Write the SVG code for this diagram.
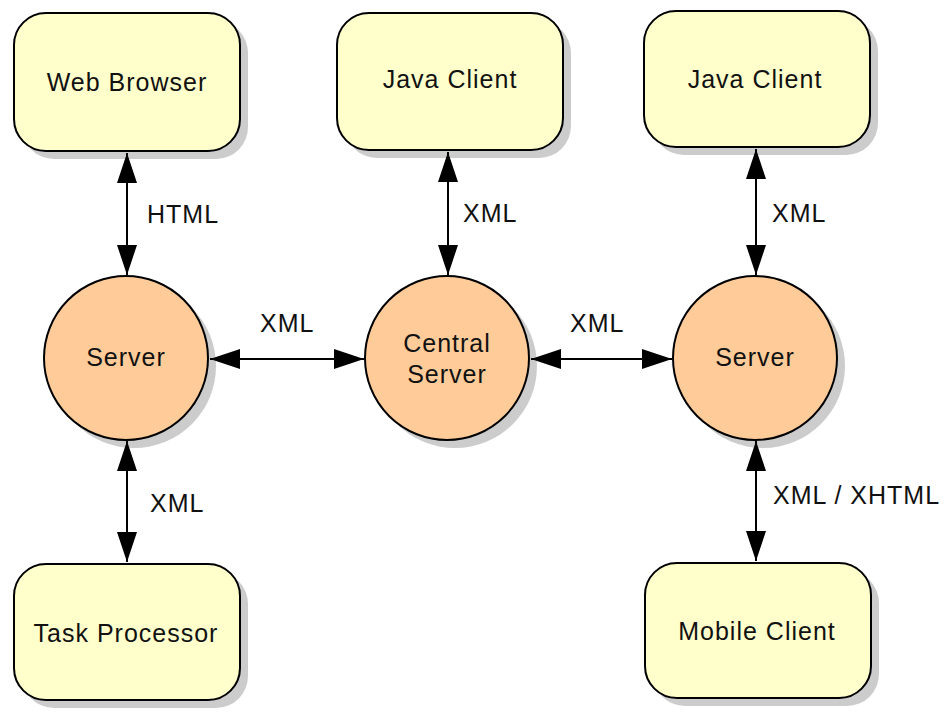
<svg xmlns="http://www.w3.org/2000/svg" width="945" height="713" viewBox="0 0 945 713">
<defs>
<marker id="ah" markerUnits="userSpaceOnUse" markerWidth="30" markerHeight="20" refX="30" refY="10" orient="auto-start-reverse" viewBox="0 0 30 20">
<path d="M0,0 L30,10 L0,20 Z" fill="#000"/>
</marker>
</defs>
<style>
.box{fill:#FFFFCC;stroke:#000;stroke-width:2}
.cir{fill:#FFCC99;stroke:#000;stroke-width:2}
.sh{fill:#CCCCCC}
.t{font-family:"Liberation Sans",Arial,sans-serif;font-size:25px;fill:#111;text-anchor:middle;letter-spacing:1px}
.l{font-family:"Liberation Sans",Arial,sans-serif;font-size:25px;fill:#111;letter-spacing:1px}
.c{stroke:#000;stroke-width:2;fill:none;marker-start:url(#ah);marker-end:url(#ah)}
</style>
<rect width="945" height="713" fill="#fff"/>
<g id="webBrowser">
<rect class="sh" x="22" y="21" width="226" height="138" rx="32"/>
<rect class="box" x="14" y="13" width="226" height="138" rx="32"/>
<text class="t" x="127" y="91">Web Browser</text>
</g>
<g id="javaClient1">
<rect class="sh" x="345" y="21" width="226" height="137" rx="32"/>
<rect class="box" x="337" y="13" width="226" height="137" rx="32"/>
<text class="t" x="450" y="88">Java Client</text>
</g>
<g id="javaClient2">
<rect class="sh" x="652" y="19" width="226" height="136" rx="32"/>
<rect class="box" x="644" y="11" width="226" height="136" rx="32"/>
<text class="t" x="755" y="88">Java Client</text>
</g>
<g id="taskProcessor">
<rect class="sh" x="22" y="572" width="226" height="136" rx="32"/>
<rect class="box" x="14" y="564" width="226" height="136" rx="32"/>
<text class="t" x="126" y="642">Task Processor</text>
</g>
<g id="mobileClient">
<rect class="sh" x="653" y="571" width="226" height="135" rx="32"/>
<rect class="box" x="645" y="563" width="226" height="135" rx="32"/>
<text class="t" x="757" y="640">Mobile Client</text>
</g>
<g id="server1">
<circle class="sh" cx="134" cy="366" r="82"/>
<circle class="cir" cx="126" cy="358" r="82"/>
<text class="t" x="126" y="366">Server</text>
</g>
<g id="centralServer">
<circle class="sh" cx="455" cy="366" r="82"/>
<circle class="cir" cx="447" cy="358" r="82"/>
<text class="t" x="447" y="352">Central</text>
<text class="t" x="447" y="383">Server</text>
</g>
<g id="server2">
<circle class="sh" cx="763" cy="366" r="82"/>
<circle class="cir" cx="755" cy="358" r="82"/>
<text class="t" x="755" y="366">Server</text>
</g>
<g id="connectors">
<line class="c" x1="127" y1="153" x2="127" y2="275"/>
<line class="c" x1="127" y1="441" x2="127" y2="562"/>
<line class="c" x1="448" y1="152" x2="448" y2="275"/>
<line class="c" x1="756" y1="149" x2="756" y2="275"/>
<line class="c" x1="756" y1="441" x2="756" y2="561"/>
<line class="c" x1="210" y1="359" x2="364" y2="359"/>
<line class="c" x1="531" y1="359" x2="672" y2="359"/>
<text class="l" x="147" y="223">HTML</text>
<text class="l" x="463" y="222">XML</text>
<text class="l" x="772" y="222">XML</text>
<text class="l" x="260" y="332">XML</text>
<text class="l" x="570" y="332">XML</text>
<text class="l" x="150" y="512">XML</text>
<text class="l" x="773" y="504">XML / XHTML</text>
</g>
</svg>
